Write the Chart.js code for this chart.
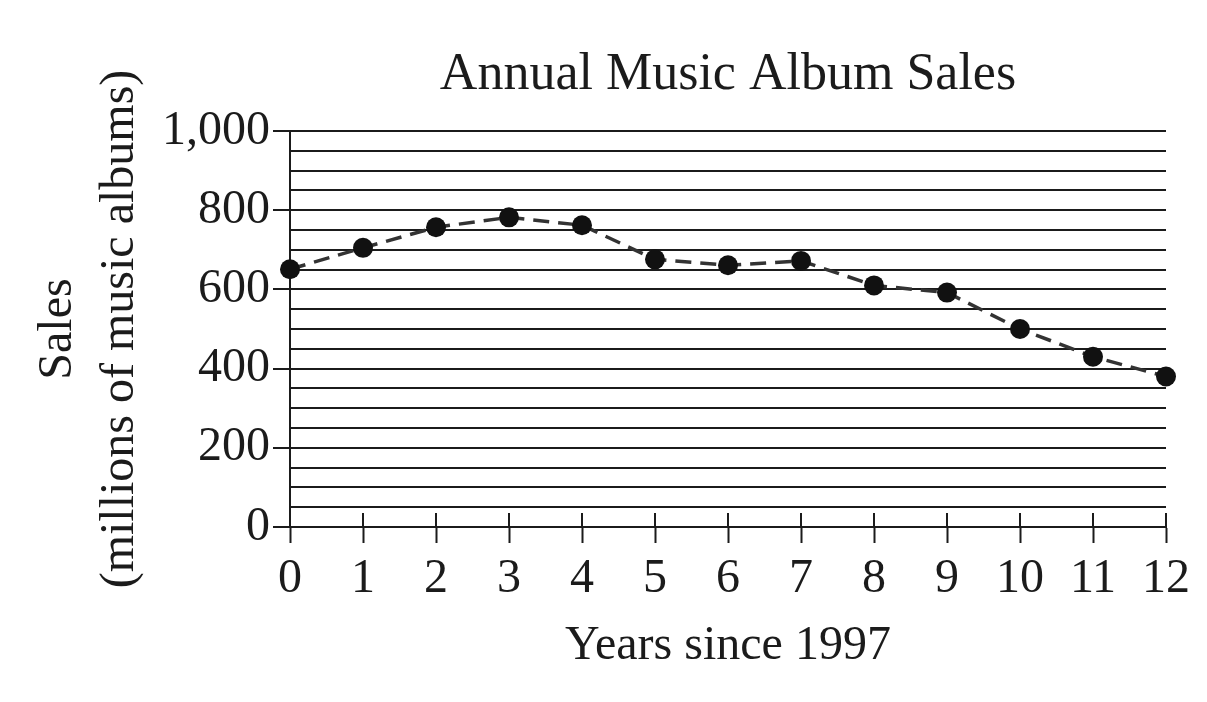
<!DOCTYPE html>
<html>
<head>
<meta charset="utf-8">
<script src="https://cdn.jsdelivr.net/npm/chart.js@4.4.1/dist/chart.umd.min.js"></script>
<style>
  html, body { margin: 0; padding: 0; background: #fff; }
  #wrap { width: 1207px; height: 702px; }
</style>
</head>
<body>
<div id="wrap"><canvas id="myChart"></canvas></div>
<script>
// datos
const years = ["0", "1", "2", "3", "4", "5", "6", "7", "8", "9", "10", "11", "12"];
const sales = [651, 705, 757, 782, 762, 676, 661, 672, 610, 592, 500, 430, 380];
const yTickLabels = [0, 200, 400, 600, 800, 1000];

const ink = "#1b1b1b";
const serif = "'Liberation Serif', 'DejaVu Serif', serif";

// marcas del eje x que cruzan la linea del eje hacia arriba
const tickUp = {
  id: "tickUp",
  afterDatasetsDraw(chart) {
    const x = chart.scales.x;
    const y = chart.scales.y;
    const ctx = chart.ctx;
    const py = y.getPixelForValue(0);
    ctx.save();
    ctx.strokeStyle = ink;
    ctx.lineWidth = 2;
    for (let i = 0; i < years.length; i++) {
      const px = x.getPixelForTick(i);
      ctx.beginPath();
      ctx.moveTo(px, py - 14);
      ctx.lineTo(px, py);
      ctx.stroke();
    }
    ctx.restore();
  }
};

new Chart("myChart", {
  type: "line",
  data: {
    labels: years,
    datasets: [{
      data: sales,
      borderColor: "#333",
      borderWidth: 3.5,
      borderDash: [16, 9],
      tension: 0,
      pointRadius: 10,
      pointHoverRadius: 10,
      pointBackgroundColor: "#111",
      pointBorderColor: "#111",
      pointBorderWidth: 0,
      clip: false
    }]
  },
  options: {
    responsive: true,
    maintainAspectRatio: false,
    animation: false,
    layout: { padding: { left: 0, right: 41, top: 0, bottom: 0 } },
    plugins: {
      legend: { display: false },
      tooltip: { enabled: false },
      title: { display: false }
    },
    scales: {
      top: {
        type: "category",
        position: "top",
        labels: years,
        ticks: { display: false },
        grid: { display: false },
        border: { display: false },
        title: {
          display: true,
          text: "Annual Music Album Sales",
          color: ink,
          font: { family: serif, size: 52 },
          padding: { top: 44, bottom: 0 }
        },
        afterFit(scale) { scale.height = 131; }
      },
      x: {
        type: "category",
        offset: false,
        ticks: {
          color: ink,
          font: { family: serif, size: 48 },
          padding: 8,
          maxRotation: 0,
          autoSkip: false
        },
        grid: {
          drawOnChartArea: false,
          drawTicks: true,
          tickLength: 16,
          tickColor: ink,
          tickWidth: 2
        },
        border: { display: true, color: ink, width: 2 },
        title: {
          display: true,
          text: "Years since 1997",
          color: ink,
          font: { family: serif, size: 48 },
          padding: { top: 0, bottom: 27 }
        },
        afterFit(scale) { scale.height = 175; }
      },
      y: {
        min: 0,
        max: 1000,
        ticks: {
          stepSize: 50,
          autoSkip: false,
          color: ink,
          font: { family: serif, size: 48 },
          padding: 3,
          callback: (v) => yTickLabels.includes(v) ? v.toLocaleString("en-US") : ""
        },
        grid: {
          color: ink,
          lineWidth: 2,
          tickLength: 17,
          tickWidth: 2,
          tickColor: (c) => (c.tick && yTickLabels.includes(c.tick.value)) ? ink : "rgba(0,0,0,0)"
        },
        border: { display: true, color: ink, width: 2 },
        title: {
          display: true,
          text: ["Sales", "(millions of music albums)"],
          color: ink,
          font: { family: serif, size: 48, lineHeight: 1.3 },
          padding: { top: 27, bottom: 0 }
        },
        afterFit(scale) { scale.width = 290; }
      }
    }
  },
  plugins: [tickUp]
});
</script>
</body>
</html>
